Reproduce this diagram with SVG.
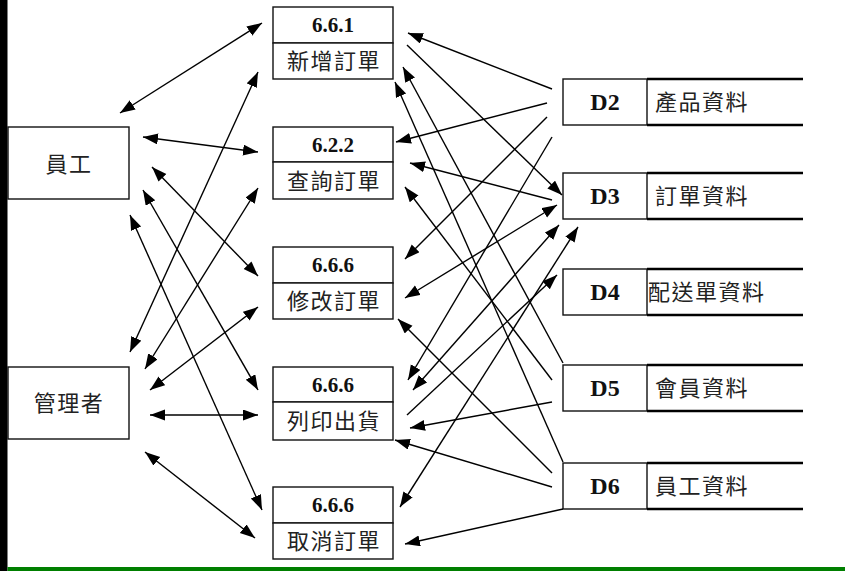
<svg xmlns="http://www.w3.org/2000/svg" width="845" height="571" viewBox="0 0 845 571">
<style>
.box{fill:#fff;stroke:#111;stroke-width:1.4}
.num{font-family:"Liberation Serif","Times New Roman",serif;font-weight:bold;font-size:21px;fill:#111;text-anchor:middle}
.dnum{font-family:"Liberation Serif","Times New Roman",serif;font-weight:bold;font-size:24px;fill:#111;text-anchor:middle;dominant-baseline:central}
.zh{font-family:"Liberation Serif","Noto Sans CJK TC",serif;font-size:22px;letter-spacing:1.5px;fill:#222;dominant-baseline:central}
.mid{text-anchor:middle}
.rail{stroke:#000;stroke-width:2.4}
.c line{stroke:#000;stroke-width:1.4;fill:none}
.one{marker-end:url(#ah)}
.two{marker-start:url(#ah);marker-end:url(#ah)}
</style>
<defs>
<marker id="ah" markerUnits="userSpaceOnUse" markerWidth="16" markerHeight="12" refX="15" refY="5.5" orient="auto-start-reverse">
<path d="M0,0 L15,5.5 L0,11 Z" fill="#000"/>
</marker>
</defs>
<rect width="845" height="571" fill="#fff"/>
<rect x="0" y="0" width="7.5" height="571" fill="#000"/>
<rect x="7.5" y="567" width="837.5" height="4" fill="#007f00"/>

<g id="e-staff"><rect class="box" x="8" y="127" width="121" height="72"/><text class="zh mid" x="69" y="164">員工</text></g>
<g id="e-admin"><rect class="box" x="8" y="367" width="121" height="72"/><text class="zh mid" x="69" y="403">管理者</text></g>

<g id="p-add"><rect class="box" x="273" y="7" width="120" height="36"/><rect class="box" x="273" y="43" width="120" height="36"/><text class="num" x="333" y="32">6.6.1</text><text class="zh mid" x="334" y="61">新增訂單</text></g>
<g id="p-query"><rect class="box" x="273" y="127" width="120" height="35"/><rect class="box" x="273" y="162" width="120" height="37"/><text class="num" x="333" y="152">6.2.2</text><text class="zh mid" x="334" y="181">查詢訂單</text></g>
<g id="p-edit"><rect class="box" x="273" y="247" width="120" height="36"/><rect class="box" x="273" y="283" width="120" height="36"/><text class="num" x="333" y="272">6.6.6</text><text class="zh mid" x="334" y="301">修改訂單</text></g>
<g id="p-print"><rect class="box" x="273" y="367" width="120" height="35"/><rect class="box" x="273" y="402" width="120" height="38"/><text class="num" x="333" y="392">6.6.6</text><text class="zh mid" x="334" y="421">列印出貨</text></g>
<g id="p-cancel"><rect class="box" x="273" y="487" width="120" height="36"/><rect class="box" x="273" y="523" width="120" height="36"/><text class="num" x="333" y="512">6.6.6</text><text class="zh mid" x="334" y="541">取消訂單</text></g>

<g id="d2"><rect class="box" x="563" y="79" width="84" height="46"/><line class="rail" x1="647" y1="79" x2="803" y2="79"/><line class="rail" x1="647" y1="125" x2="803" y2="125"/><text class="dnum" x="605" y="102">D2</text><text class="zh" x="655" y="102">產品資料</text></g>
<g id="d3"><rect class="box" x="563" y="173" width="84" height="46"/><line class="rail" x1="647" y1="173" x2="803" y2="173"/><line class="rail" x1="647" y1="219" x2="803" y2="219"/><text class="dnum" x="605" y="196">D3</text><text class="zh" x="655" y="196">訂單資料</text></g>
<g id="d4"><rect class="box" x="563" y="269" width="84" height="46"/><line class="rail" x1="647" y1="269" x2="803" y2="269"/><line class="rail" x1="647" y1="315" x2="803" y2="315"/><text class="dnum" x="605" y="292">D4</text><text class="zh" x="648" y="292">配送單資料</text></g>
<g id="d5"><rect class="box" x="563" y="365" width="84" height="46"/><line class="rail" x1="647" y1="365" x2="803" y2="365"/><line class="rail" x1="647" y1="411" x2="803" y2="411"/><text class="dnum" x="605" y="388">D5</text><text class="zh" x="655" y="388">會員資料</text></g>
<g id="d6"><rect class="box" x="563" y="463" width="84" height="46"/><line class="rail" x1="647" y1="463" x2="803" y2="463"/><line class="rail" x1="647" y1="509" x2="803" y2="509"/><text class="dnum" x="605" y="486">D6</text><text class="zh" x="655" y="486">員工資料</text></g>

<g id="connectors" class="c">
<line class="two" x1="120" y1="113" x2="262" y2="23"/>
<line class="two" x1="143" y1="137" x2="258" y2="152"/>
<line class="two" x1="152" y1="167" x2="258" y2="276"/>
<line class="two" x1="143" y1="190" x2="258" y2="390"/>
<line class="two" x1="130" y1="215" x2="262" y2="510"/>
<line class="two" x1="130" y1="352" x2="258" y2="72"/>
<line class="two" x1="145" y1="369" x2="258" y2="188"/>
<line class="two" x1="150" y1="390" x2="258" y2="307"/>
<line class="two" x1="150" y1="415" x2="258" y2="415"/>
<line class="two" x1="145" y1="452" x2="255" y2="538"/>

<line class="one" x1="552" y1="89" x2="408" y2="33"/>
<line class="one" x1="407" y1="45" x2="562" y2="195"/>
<line class="one" x1="563" y1="363" x2="403" y2="67"/>
<line class="one" x1="563" y1="462" x2="395" y2="82"/>
<line class="one" x1="547" y1="103" x2="396" y2="142"/>
<line class="one" x1="552" y1="200" x2="410" y2="163"/>
<line class="one" x1="552" y1="380" x2="405" y2="187"/>
<line class="one" x1="547" y1="117" x2="405" y2="259"/>
<line class="two" x1="405" y1="298" x2="557" y2="205"/>
<line class="one" x1="552" y1="473" x2="398" y2="319"/>
<line class="one" x1="552" y1="137" x2="408" y2="380"/>
<line class="two" x1="413" y1="390" x2="559" y2="225"/>
<line class="one" x1="407" y1="415" x2="557" y2="275"/>
<line class="one" x1="552" y1="402" x2="410" y2="428"/>
<line class="one" x1="552" y1="487" x2="395" y2="440"/>
<line class="two" x1="400" y1="507" x2="578" y2="227"/>
<line class="one" x1="563" y1="509" x2="405" y2="544"/>
</g>
</svg>
